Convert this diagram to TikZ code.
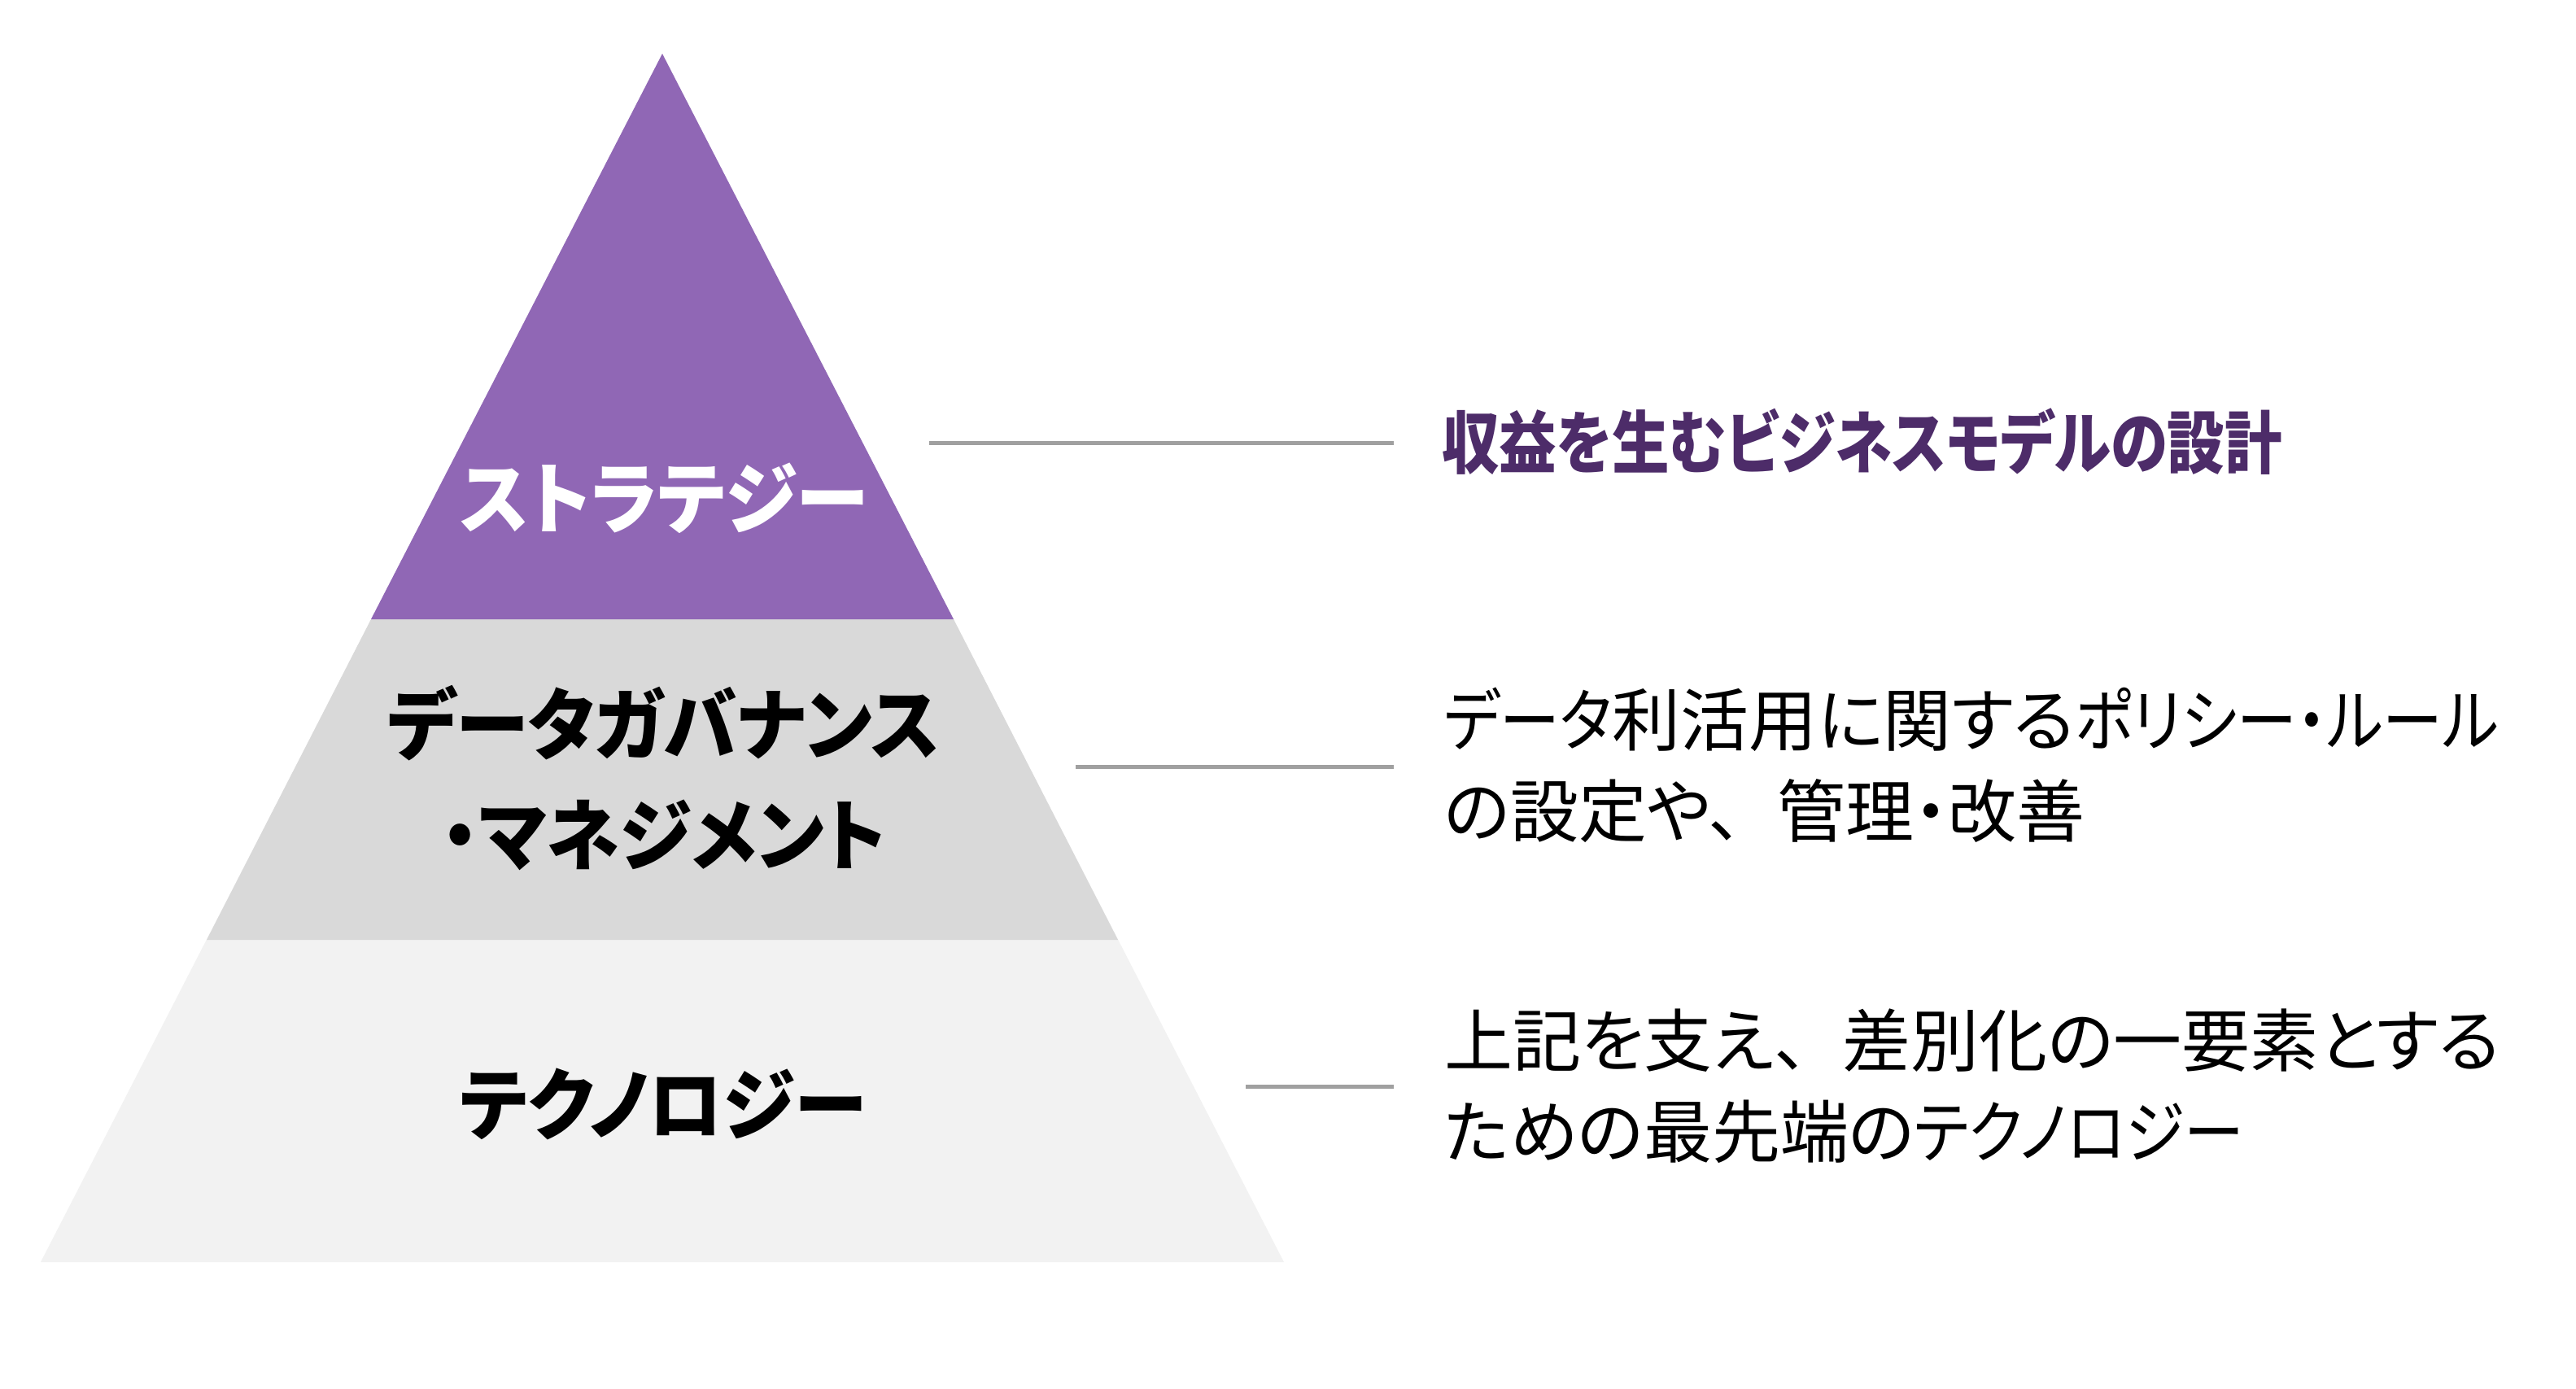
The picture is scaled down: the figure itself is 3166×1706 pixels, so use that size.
\documentclass[tikz,border=0pt]{standalone}
\usepackage{fontspec}
\newfontfamily\jp{Noto Sans CJK JP}[RawFeature=+palt]
\newfontfamily\jpkata{Noto Sans CJK JP}[RawFeature=+palt,FakeStretch=0.88]
\newfontfamily\jptitle{Noto Sans CJK JP}[RawFeature=+palt,FakeStretch=0.84]
\newfontfamily\jplabel{Noto Sans CJK JP}[RawFeature=+palt,FakeStretch=0.94]
\newcommand{\katarun}[1]{{\jpkata #1}}
\newcommand{\fullcomma}{、\kern0.5em}
\definecolor{stratpurple}{HTML}{9067B5}
\definecolor{titlepurple}{HTML}{4D2C69}
\definecolor{midgray}{HTML}{D9D9D9}
\definecolor{lightgray}{HTML}{F2F2F2}
\definecolor{linegray}{HTML}{A0A0A0}
\begin{document}
\begin{tikzpicture}[x=1pt,y=-1pt,
  lvl/.style={inner sep=0pt, font={\jplabel\bfseries\fontsize{96}{136}\selectfont}, align=center},
  desc/.style={inner sep=0pt, anchor=west, align=left, font={\jp\fontsize{84}{112}\selectfont}},
  leader/.style={draw=linegray, line width=5pt}]
\useasboundingbox (0,0) rectangle (3166,1706);
% pyramid geometry
\coordinate (apex) at (814,66);
\coordinate (bl) at (50,1551);
\coordinate (br) at (1578,1551);
\coordinate (ml) at (254,1155);
\coordinate (mr) at (1374,1155);
\coordinate (tl) at (456,761);
\coordinate (tr) at (1172,761);
\fill[lightgray] (apex) -- (br) -- (bl) -- cycle;
\fill[midgray] (tl) -- (tr) -- (mr) -- (ml) -- cycle;
\fill[stratpurple] (apex) -- (tr) -- (tl) -- cycle;
% level labels
\node[lvl, text=white] (s1) at (816,612) {ストラテジー};
\node[lvl] (s2) at (816,956) {データガバナンス\\・マネジメント};
\node[lvl] (s3) at (815,1357) {テクノロジー};
% descriptions
\node[desc, text=titlepurple, font={\jptitle\bfseries\fontsize{84}{112}\selectfont}] (t1) at (1772,543) {収益を生むビジネスモデルの設計};
\node[desc] (t2) at (1775,940) {\katarun{データ}利活用に関する\katarun{ポリシー・ルール}\\の設定や\fullcomma 管理・改善};
\node[desc] (t3) at (1775,1335) {上記を支え\fullcomma 差別化の一要素とする\\ための最先端の\katarun{テクノロジー}};
% leader lines
\coordinate (l1a) at (1142,544);
\coordinate (l1b) at (1713,544);
\coordinate (l2a) at (1322,942);
\coordinate (l2b) at (1713,942);
\coordinate (l3a) at (1531,1335);
\coordinate (l3b) at (1713,1335);
\draw[leader] (l1a) -- (l1b);
\draw[leader] (l2a) -- (l2b);
\draw[leader] (l3a) -- (l3b);
\end{tikzpicture}
\end{document}
